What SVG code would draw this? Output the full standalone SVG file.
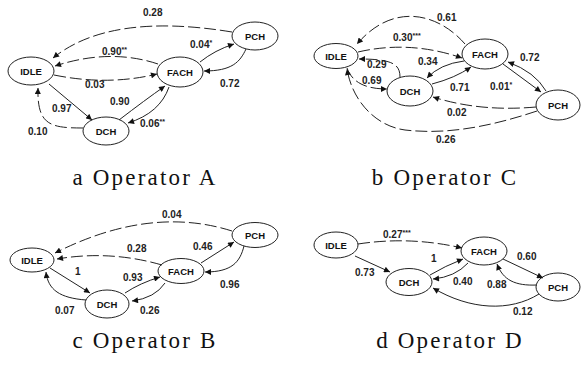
<svg xmlns="http://www.w3.org/2000/svg" width="581" height="365" viewBox="0 0 581 365">
<defs>
<marker id="ah" viewBox="0 0 10 10" refX="10" refY="5" markerWidth="7" markerHeight="6" markerUnits="userSpaceOnUse" orient="auto"><path d="M0,0 L10,5 L0,10 z" fill="#111"/></marker>
<style>
.n ellipse{fill:#fff;stroke:#222;stroke-width:1}
.n text{font-family:"Liberation Sans",Arial,sans-serif;font-weight:bold;font-size:9.5px;fill:#111;text-anchor:middle;dominant-baseline:central}
.e path{fill:none;stroke:#222;stroke-width:1;marker-end:url(#ah)}
.e path.d{stroke-dasharray:12 4}
.l{font-family:"Liberation Sans",Arial,sans-serif;font-weight:bold;font-size:10px;fill:#222}
.s{font-size:7px}
.t{font-family:"Liberation Serif","Times New Roman",serif;font-size:23px;letter-spacing:2.2px;fill:#111;text-anchor:middle}
</style>
</defs>
<rect width="581" height="365" fill="#fff"/>

<!-- Panel a: Operator A -->
<g id="a-idle" class="n"><ellipse cx="31" cy="71" rx="23" ry="14"/><text x="31" y="71">IDLE</text></g>
<g id="a-fach" class="n"><ellipse cx="180" cy="72" rx="23" ry="15"/><text x="180" y="72">FACH</text></g>
<g id="a-pch" class="n"><ellipse cx="255" cy="36" rx="23" ry="14"/><text x="255" y="36">PCH</text></g>
<g id="a-dch" class="n"><ellipse cx="106" cy="131" rx="23" ry="14"/><text x="106" y="131">DCH</text></g>
<g id="a-edges" class="e">
<path class="d" d="M232,32 Q110,12 53,58"/>
<path class="d" d="M158,64 Q110,48 55,66"/>
<path class="d" d="M54,75 Q108,86 157,74"/>
<path d="M200,62 Q215,50 234,44"/>
<path d="M246,49 C240,62 232,71 204,71"/>
<path d="M49,84 L92,120"/>
<path d="M119,120 Q145,100 165,86"/>
<path d="M169,87 Q160,113 128,123"/>
<path class="d" d="M83,128 C50,128 37,125 38,88"/>
</g>
<g id="a-labels">
<text class="l" x="143" y="16">0.28</text>
<text class="l" x="102" y="55">0.90<tspan class="s" dy="-3">**</tspan></text>
<text class="l" x="190" y="48">0.04<tspan class="s" dy="-3">*</tspan></text>
<text class="l" x="85" y="88">0.03</text>
<text class="l" x="220" y="87">0.72</text>
<text class="l" x="52" y="112">0.97</text>
<text class="l" x="110" y="105">0.90</text>
<text class="l" x="140" y="127">0.06<tspan class="s" dy="-3">**</tspan></text>
<text class="l" x="28" y="135">0.10</text>
</g>
<text class="t" x="145" y="185">a Operator A</text>

<!-- Panel b: Operator C -->
<g id="b-idle" class="n"><ellipse cx="336" cy="56" rx="22" ry="12.5"/><text x="336" y="56">IDLE</text></g>
<g id="b-fach" class="n"><ellipse cx="485" cy="54" rx="23" ry="15"/><text x="485" y="54">FACH</text></g>
<g id="b-dch" class="n"><ellipse cx="410" cy="91" rx="23" ry="15"/><text x="410" y="91">DCH</text></g>
<g id="b-pch" class="n"><ellipse cx="558" cy="105" rx="22" ry="15"/><text x="558" y="105">PCH</text></g>
<g id="b-edges" class="e">
<path class="d" d="M465,44 C440,15 395,0 357,44"/>
<path class="d" d="M358,52 Q410,40 462,58"/>
<path class="d" d="M400,77 C400,64 392,59 359,59"/>
<path class="d" d="M347,68 C352,82 365,89 387,89"/>
<path d="M464,61 Q440,64 427,78"/>
<path d="M432,84 Q455,78 471,67"/>
<path d="M503,64 L541,92"/>
<path d="M546,91 Q535,72 508,62"/>
<path class="d" d="M536,107 Q480,112 433,97"/>
<path class="d" d="M537,111 C480,130 440,134 405,130 C375,126 352,100 347,69"/>
</g>
<g id="b-labels">
<text class="l" x="437" y="21">0.61</text>
<text class="l" x="393" y="41">0.30<tspan class="s" dy="-3">***</tspan></text>
<text class="l" x="367" y="68">0.29</text>
<text class="l" x="418" y="65">0.34</text>
<text class="l" x="362" y="84">0.69</text>
<text class="l" x="450" y="91">0.71</text>
<text class="l" x="520" y="61">0.72</text>
<text class="l" x="490" y="90">0.01<tspan class="s" dy="-3">*</tspan></text>
<text class="l" x="447" y="116">0.02</text>
<text class="l" x="436" y="143">0.26</text>
</g>
<text class="t" x="445" y="185">b Operator C</text>

<!-- Panel c: Operator B -->
<g id="c-idle" class="n"><ellipse cx="32" cy="260" rx="22" ry="12"/><text x="32" y="260">IDLE</text></g>
<g id="c-fach" class="n"><ellipse cx="181" cy="271" rx="23" ry="12.5"/><text x="181" y="271">FACH</text></g>
<g id="c-pch" class="n"><ellipse cx="255" cy="235" rx="23" ry="12.5"/><text x="255" y="235">PCH</text></g>
<g id="c-dch" class="n"><ellipse cx="107" cy="304" rx="22" ry="14"/><text x="107" y="304">DCH</text></g>
<g id="c-edges" class="e">
<path class="d" d="M232,231 Q150,205 55,253"/>
<path class="d" d="M162,265 Q110,250 57,259"/>
<path d="M201,263 L234,242"/>
<path d="M244,246 C240,262 232,272 205,272"/>
<path d="M50,268 L90,293"/>
<path d="M86,300 C60,298 48,290 46,272"/>
<path d="M125,293 Q140,283 160,277"/>
<path d="M165,283 Q155,298 132,301"/>
</g>
<g id="c-labels">
<text class="l" x="162" y="218">0.04</text>
<text class="l" x="127" y="252">0.28</text>
<text class="l" x="193" y="250">0.46</text>
<text class="l" x="75" y="275">1</text>
<text class="l" x="123" y="281">0.93</text>
<text class="l" x="220" y="288">0.96</text>
<text class="l" x="55" y="314">0.07</text>
<text class="l" x="140" y="314">0.26</text>
</g>
<text class="t" x="145" y="348">c Operator B</text>

<!-- Panel d: Operator D -->
<g id="d-idle" class="n"><ellipse cx="336" cy="245" rx="22" ry="13"/><text x="336" y="245">IDLE</text></g>
<g id="d-fach" class="n"><ellipse cx="484" cy="251" rx="23" ry="14"/><text x="484" y="251">FACH</text></g>
<g id="d-dch" class="n"><ellipse cx="409" cy="282" rx="23" ry="13.5"/><text x="409" y="282">DCH</text></g>
<g id="d-pch" class="n"><ellipse cx="558" cy="287" rx="22" ry="14"/><text x="558" y="287">PCH</text></g>
<g id="d-edges" class="e">
<path class="d" d="M358,244 Q410,236 462,248"/>
<path d="M355,256 L390,272"/>
<path d="M430,275 Q445,266 463,259"/>
<path d="M468,263 Q455,277 433,279"/>
<path d="M503,259 L543,278"/>
<path d="M537,285 C515,286 503,280 497,264"/>
<path d="M539,294 C510,312 470,310 433,288"/>
</g>
<g id="d-labels">
<text class="l" x="383" y="238">0.27<tspan class="s" dy="-3">***</tspan></text>
<text class="l" x="431" y="262">1</text>
<text class="l" x="517" y="260">0.60</text>
<text class="l" x="355" y="276">0.73</text>
<text class="l" x="453" y="285">0.40</text>
<text class="l" x="487" y="288">0.88</text>
<text class="l" x="513" y="315">0.12</text>
</g>
<text class="t" x="450" y="348">d Operator D</text>
</svg>
